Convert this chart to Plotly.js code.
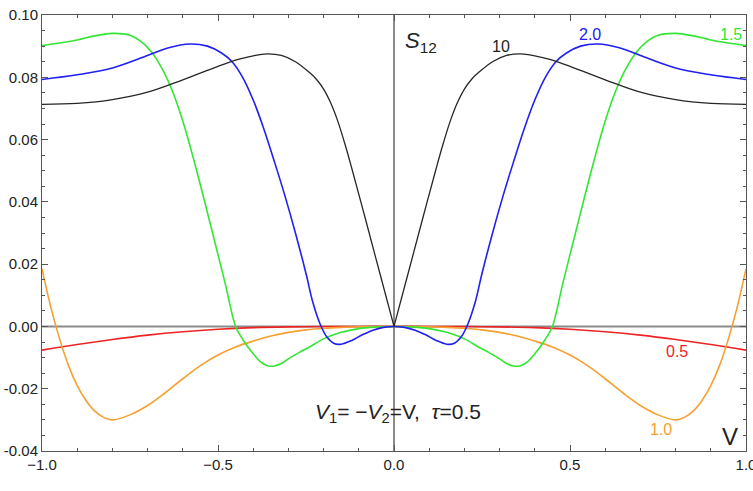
<!DOCTYPE html>
<html>
<head>
<meta charset="utf-8">
<script src="https://cdn.plot.ly/plotly-3.0.1.min.js"></script>
<style>html,body{margin:0;padding:0;background:#fff;}#chart{width:753px;height:491px;}</style>
</head>
<body>
<div id="chart"></div>
<script>
// tau = 10 (black), left and right halves (sharp cusp at V = 0)
const blackLX = [-1, -0.9, -0.8, -0.7, -0.6, -0.5, -0.44, -0.4, -0.36, -0.32, -0.28, -0.24, -0.22, -0.2, -0.18, -0.16, -0.14, -0.12, -0.08, -0.04, 0];
const blackLY = [0.0713, 0.0716, 0.0728, 0.0752, 0.0792, 0.0835, 0.0858, 0.0869, 0.0875, 0.0870, 0.0850, 0.0815, 0.0793, 0.0762, 0.0718, 0.0660, 0.0588, 0.0508, 0.0340, 0.0170, 0];
const blackRX = [0, 0.04, 0.08, 0.12, 0.14, 0.16, 0.18, 0.2, 0.22, 0.24, 0.28, 0.32, 0.36, 0.4, 0.44, 0.5, 0.6, 0.7, 0.8, 0.9, 1];
const blackRY = [0, 0.0170, 0.0340, 0.0508, 0.0588, 0.0660, 0.0718, 0.0762, 0.0793, 0.0815, 0.0850, 0.0870, 0.0875, 0.0869, 0.0858, 0.0835, 0.0792, 0.0752, 0.0728, 0.0716, 0.0713];

// tau = 2.0 (blue)
const blueX = [-1, -0.9, -0.8, -0.7, -0.64, -0.58, -0.53, -0.49, -0.46, -0.43, -0.4, -0.37, -0.34, -0.31, -0.28, -0.25, -0.23, -0.21, -0.19, -0.17, -0.15, -0.12, -0.09, -0.06, -0.03, 0,
               0.03, 0.06, 0.09, 0.12, 0.15, 0.17, 0.19, 0.21, 0.23, 0.25, 0.28, 0.31, 0.34, 0.37, 0.4, 0.43, 0.46, 0.49, 0.53, 0.58, 0.64, 0.7, 0.8, 0.9, 1];
const blueY = [0.0793, 0.0808, 0.0830, 0.0870, 0.0895, 0.0907, 0.0900, 0.0878, 0.0850, 0.0800, 0.0727, 0.0635, 0.0530, 0.0420, 0.0300, 0.0170, 0.0075, 0.0008, -0.0035, -0.0055, -0.0057, -0.0045, -0.0027, -0.0012, -0.0003, 0,
               -0.0003, -0.0012, -0.0027, -0.0045, -0.0057, -0.0055, -0.0035, 0.0008, 0.0075, 0.0170, 0.0300, 0.0420, 0.0530, 0.0635, 0.0727, 0.0800, 0.0850, 0.0878, 0.0900, 0.0907, 0.0895, 0.0870, 0.0830, 0.0808, 0.0793];

// tau = 1.5 (green)
const greenX = [-1, -0.95, -0.9, -0.85, -0.8, -0.75, -0.72, -0.69, -0.66, -0.63, -0.6, -0.57, -0.54, -0.51, -0.48, -0.45, -0.435, -0.42, -0.4, -0.38, -0.36, -0.34, -0.32, -0.3, -0.27, -0.24, -0.2, -0.15, -0.1, -0.05, 0,
                0.05, 0.1, 0.15, 0.2, 0.24, 0.27, 0.3, 0.32, 0.34, 0.36, 0.38, 0.4, 0.42, 0.435, 0.45, 0.48, 0.51, 0.54, 0.57, 0.6, 0.63, 0.66, 0.69, 0.72, 0.75, 0.8, 0.85, 0.9, 0.95, 1];
const greenY = [0.0902, 0.0910, 0.0920, 0.0933, 0.0941, 0.0935, 0.0916, 0.0883, 0.0830, 0.0757, 0.0660, 0.0540, 0.0410, 0.0275, 0.0140, 0.0000, -0.0032, -0.0058, -0.0088, -0.0113, -0.0126, -0.0127, -0.0119, -0.0104, -0.0084, -0.0066, -0.0040, -0.0019, -0.0007, -0.0002, 0,
                -0.0002, -0.0007, -0.0019, -0.0040, -0.0066, -0.0084, -0.0104, -0.0119, -0.0127, -0.0126, -0.0113, -0.0088, -0.0058, -0.0032, 0.0000, 0.0140, 0.0275, 0.0410, 0.0540, 0.0660, 0.0757, 0.0830, 0.0883, 0.0916, 0.0935, 0.0941, 0.0933, 0.0920, 0.0910, 0.0902];

// tau = 1.0 (orange)
const orangeX = [-1, -0.975, -0.95, -0.925, -0.9, -0.875, -0.85, -0.825, -0.8, -0.75, -0.7, -0.65, -0.6, -0.55, -0.5, -0.45, -0.4, -0.35, -0.3, -0.25, -0.2, -0.15, -0.1, 0,
                 0.1, 0.15, 0.2, 0.25, 0.3, 0.35, 0.4, 0.45, 0.5, 0.55, 0.6, 0.65, 0.7, 0.75, 0.8, 0.825, 0.85, 0.875, 0.9, 0.925, 0.95, 0.975, 1];
const orangeY = [0.0185, 0.0062, -0.0040, -0.0125, -0.0190, -0.0238, -0.0272, -0.0292, -0.0300, -0.0284, -0.0254, -0.0213, -0.0168, -0.0126, -0.0092, -0.0066, -0.0047, -0.0031, -0.0019, -0.0011, -0.0006, -0.0003, -0.0001, 0,
                 -0.0001, -0.0003, -0.0006, -0.0011, -0.0019, -0.0031, -0.0047, -0.0066, -0.0092, -0.0126, -0.0168, -0.0213, -0.0254, -0.0284, -0.0300, -0.0292, -0.0272, -0.0238, -0.0190, -0.0125, -0.0040, 0.0062, 0.0185];

// tau = 0.5 (red)
const redX = [-1, -0.9, -0.8, -0.7, -0.6, -0.5, -0.4, -0.3, -0.2, -0.1, 0, 0.1, 0.2, 0.3, 0.4, 0.5, 0.6, 0.7, 0.8, 0.9, 1];
const redY = [-0.0076, -0.0058, -0.0042, -0.0028, -0.0017, -0.0009, -0.0004, -0.00015, -0.00004, 0, 0, 0, -0.00004, -0.00015, -0.0004, -0.0009, -0.0017, -0.0028, -0.0042, -0.0058, -0.0076];

const xTickVals = [-1, -0.5, 0, 0.5, 1];
const xTickText = ['\u22121.0', '\u22120.5', '0.0', '0.5', '1.0'];
const yTickVals = [-0.04, -0.02, 0, 0.02, 0.04, 0.06, 0.08, 0.10];
const yTickText = ['-0.04', '-0.02', '0.00', '0.02', '0.04', '0.06', '0.08', '0.10'];

const C = {black: '#262626', blue: '#2020f0', green: '#33e633', orange: '#f5a030', red: '#ee2424'};

function tr(x, y, color, w) {
  return {x: x, y: y, mode: 'lines', type: 'scatter', hoverinfo: 'skip',
          line: {color: color, width: w, shape: 'spline', smoothing: 1}};
}

const data = [
  tr(redX, redY, C.red, 1.6),
  tr(orangeX, orangeY, C.orange, 1.6),
  tr(greenX, greenY, C.green, 1.6),
  tr(blueX, blueY, C.blue, 1.6),
  tr(blackLX, blackLY, C.black, 1.3),
  tr(blackRX, blackRY, C.black, 1.3)
];

const font = 'Liberation Sans, Arial, Helvetica, sans-serif';
const axisCommon = {
  showgrid: false, zeroline: false,
  showline: true, linecolor: '#555', linewidth: 1, mirror: 'allticks',
  ticks: 'inside', ticklen: 6, tickcolor: '#555', tickwidth: 1,
  tickmode: 'array', ticklabeloverflow: 'allow',
  tickfont: {family: font, size: 15, color: '#222'}
};

const layout = {
  width: 753, height: 491,
  margin: {l: 42, r: 7, t: 15, b: 40},
  paper_bgcolor: '#fff', plot_bgcolor: '#fff',
  showlegend: false,
  xaxis: Object.assign({}, axisCommon, {
    range: [-1, 1], tickvals: xTickVals, ticktext: xTickText,
    minor: {tickmode: 'linear', tick0: 0, dtick: 0.1, ticks: 'inside', ticklen: 3, tickcolor: '#555'}
  }),
  yaxis: Object.assign({}, axisCommon, {
    range: [-0.04, 0.10], tickvals: yTickVals, ticktext: yTickText,
    minor: {tickmode: 'linear', tick0: 0, dtick: 0.005, ticks: 'inside', ticklen: 3, tickcolor: '#555'}
  }),
  shapes: [
    {type: 'line', xref: 'paper', yref: 'y', x0: 0, x1: 1, y0: 0, y1: 0, layer: 'below', line: {color: '#8a8a8a', width: 2}},
    {type: 'line', xref: 'x', yref: 'paper', x0: 0, x1: 0, y0: 0, y1: 1, layer: 'below', line: {color: '#8a8a8a', width: 2}}
  ],
  annotations: [
    {x: 0.077, y: 0.0913, text: '<i>S</i><sub>12</sub>', font: {family: font, size: 22, color: '#222'}},
    {x: 0.304, y: 0.0900, text: '10', font: {family: font, size: 16, color: '#222'}},
    {x: 0.557, y: 0.0939, text: '2.0', font: {family: font, size: 16, color: C.blue}},
    {x: 0.957, y: 0.0939, text: '1.5', font: {family: font, size: 16, color: C.green}},
    {x: 0.804, y: -0.0082, text: '0.5', font: {family: font, size: 16, color: C.red}},
    {x: 0.759, y: -0.0332, text: '1.0', font: {family: font, size: 16, color: C.orange}},
    {x: 0.955, y: -0.0352, text: 'V', font: {family: font, size: 24, color: '#222'}},
    {x: 0.01, y: -0.0278, text: '<i>V</i><sub>1</sub>= \u2212<i>V</i><sub>2</sub>=V,  <i>\u03c4</i>=0.5', font: {family: font, size: 21, color: '#222'}}
  ].map(a => Object.assign({xref: 'x', yref: 'y', showarrow: false, xanchor: 'center', yanchor: 'middle'}, a))
};

Plotly.newPlot('chart', data, layout, {displayModeBar: false, staticPlot: true});
</script>
</body>
</html>
